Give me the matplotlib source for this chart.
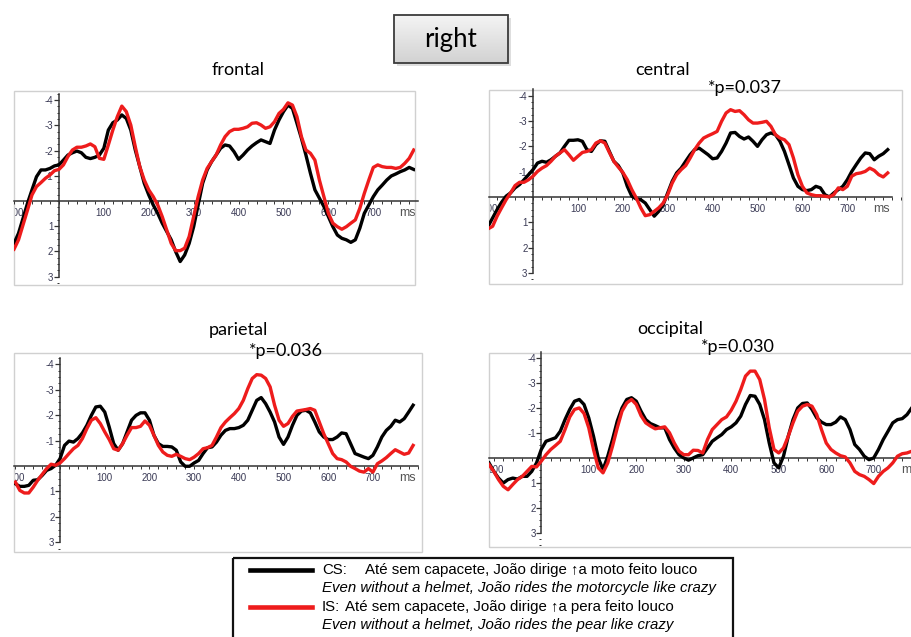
import numpy as np
import matplotlib.pyplot as plt
from matplotlib.patches import Rectangle
from matplotlib.lines import Line2D
from matplotlib.colors import LinearSegmentedColormap
from matplotlib.ticker import MultipleLocator, FixedLocator
from matplotlib.transforms import offset_copy

plt.rcParams['font.family'] = ['Liberation Sans', 'DejaVu Sans']
plt.rcParams['axes.unicode_minus'] = False

# time axis in ms (10 ms steps)
t = np.arange(-100, 800, 10)
t_occ = np.arange(-110, 790, 10)

# grand averages in microvolts (negative plotted up)
frontal_cs = [1.68, 1.28, 0.69, 0.09, -0.44, -0.96, -1.23, -1.23, -1.29, -1.39,
              -1.43, -1.62, -1.82, -1.91, -1.98, -1.91, -1.73, -1.68, -1.73, -1.82,
              -2.09, -2.81, -3.10, -3.21, -3.41, -3.27, -2.81, -2.02, -1.36, -0.70,
              -0.24, 0.16, 0.49, 0.88, 1.21, 1.54, 2.01, 2.40, 2.14, 1.68,
              1.02, 0.16, -0.70, -1.23, -1.56, -1.82, -2.09, -2.22, -2.18, -1.95,
              -1.65, -1.82, -2.02, -2.18, -2.31, -2.42, -2.35, -2.28, -2.81, -3.21,
              -3.54, -3.80, -3.67, -3.08, -2.48, -1.82, -1.10, -0.44, -0.11, 0.22,
              0.62, 1.02, 1.35, 1.48, 1.54, 1.64, 1.54, 1.08, 0.49, 0.16,
              -0.17, -0.44, -0.63, -0.83, -0.99, -1.07, -1.16, -1.23, -1.33, -1.25]
frontal_is = [1.91, 1.54, 0.95, 0.36, -0.24, -0.57, -0.73, -0.90, -1.03, -1.20,
              -1.25, -1.43, -1.76, -2.02, -2.13, -2.13, -2.18, -2.26, -2.15, -1.69,
              -1.65, -2.22, -2.81, -3.34, -3.76, -3.54, -3.01, -2.15, -1.36, -0.83,
              -0.44, -0.17, 0.16, 0.62, 1.15, 1.68, 1.97, 1.97, 1.87, 1.41,
              0.62, -0.17, -0.83, -1.29, -1.56, -1.82, -2.22, -2.55, -2.75, -2.84,
              -2.84, -2.88, -2.94, -3.08, -3.10, -3.01, -2.88, -2.94, -3.14, -3.47,
              -3.63, -3.89, -3.80, -3.34, -2.55, -2.02, -1.89, -1.62, -0.83, -0.17,
              0.49, 0.88, 1.02, 1.12, 1.02, 0.88, 0.75, 0.29, -0.30, -0.83,
              -1.33, -1.43, -1.36, -1.33, -1.33, -1.29, -1.33, -1.49, -1.69, -2.02]

central_cs = [1.16, 0.83, 0.50, 0.21, -0.03, -0.16, -0.36, -0.49, -0.68, -0.88,
              -1.08, -1.34, -1.41, -1.37, -1.47, -1.61, -1.74, -2.00, -2.24, -2.24,
              -2.26, -2.20, -1.87, -1.80, -2.07, -2.22, -2.20, -1.80, -1.41, -1.24,
              -0.95, -0.42, -0.03, 0.08, 0.11, 0.24, 0.50, 0.76, 0.57, 0.30,
              -0.16, -0.62, -0.95, -1.14, -1.41, -1.67, -1.87, -1.93, -1.80, -1.67,
              -1.51, -1.54, -1.80, -2.13, -2.53, -2.55, -2.39, -2.29, -2.37, -2.20,
              -2.00, -2.26, -2.46, -2.53, -2.46, -2.20, -1.80, -1.28, -0.75, -0.42,
              -0.29, -0.25, -0.29, -0.42, -0.36, -0.09, 0.00, -0.16, -0.29, -0.42,
              -0.68, -1.01, -1.28, -1.54, -1.74, -1.71, -1.47, -1.61, -1.71, -1.87]
central_is = [1.26, 1.16, 0.76, 0.43, 0.11, -0.16, -0.45, -0.58, -0.58, -0.68,
              -0.82, -1.01, -1.14, -1.24, -1.41, -1.61, -1.74, -1.87, -1.67, -1.45,
              -1.61, -1.76, -1.80, -1.87, -2.13, -2.22, -2.13, -1.76, -1.41, -1.18,
              -0.97, -0.68, -0.29, 0.04, 0.43, 0.74, 0.70, 0.57, 0.43, 0.24,
              -0.09, -0.55, -0.88, -1.08, -1.24, -1.54, -1.87, -2.13, -2.33, -2.42,
              -2.50, -2.59, -2.99, -3.32, -3.45, -3.38, -3.41, -3.25, -3.05, -2.92,
              -2.92, -2.95, -2.99, -2.79, -2.46, -2.33, -2.26, -2.07, -1.54, -0.88,
              -0.42, -0.16, -0.09, -0.05, -0.05, -0.03, 0.00, -0.09, -0.36, -0.29,
              -0.42, -0.82, -0.92, -0.95, -1.01, -1.14, -1.05, -0.88, -0.79, -0.95]

parietal_cs = [0.70, 0.80, 0.80, 0.76, 0.56, 0.54, 0.37, 0.17, 0.10, -0.03,
               -0.29, -0.81, -0.98, -0.94, -1.08, -1.30, -1.60, -1.99, -2.32, -2.35,
               -2.12, -1.53, -0.88, -0.62, -0.88, -1.34, -1.80, -1.99, -2.09, -2.09,
               -1.80, -1.21, -0.88, -0.77, -0.77, -0.75, -0.62, -0.16, 0.01, 0.01,
               -0.12, -0.22, -0.49, -0.72, -0.75, -0.94, -1.21, -1.40, -1.47, -1.47,
               -1.51, -1.60, -1.80, -2.19, -2.58, -2.69, -2.45, -2.12, -1.73, -1.14,
               -0.85, -1.14, -1.60, -1.99, -2.16, -2.19, -2.09, -1.73, -1.34, -1.14,
               -1.04, -1.04, -1.14, -1.30, -1.27, -0.88, -0.49, -0.42, -0.35, -0.29,
               -0.42, -0.75, -1.14, -1.40, -1.56, -1.80, -1.73, -1.86, -2.12, -2.39]
parietal_is = [0.63, 0.96, 1.06, 1.06, 0.83, 0.56, 0.33, 0.10, -0.07, -0.03,
               -0.12, -0.29, -0.49, -0.68, -0.81, -1.08, -1.47, -1.80, -1.90, -1.67,
               -1.34, -1.04, -0.68, -0.62, -0.88, -1.21, -1.51, -1.51, -1.56, -1.77,
               -1.60, -1.21, -0.81, -0.55, -0.42, -0.38, -0.46, -0.38, -0.29, -0.25,
               -0.35, -0.49, -0.68, -0.72, -0.81, -1.14, -1.51, -1.73, -1.90, -2.06,
               -2.26, -2.58, -3.04, -3.44, -3.59, -3.57, -3.44, -3.11, -2.39, -1.80,
               -1.56, -1.67, -1.95, -2.16, -2.19, -2.22, -2.26, -2.19, -1.73, -1.27,
               -0.88, -0.49, -0.29, -0.25, -0.16, 0.01, 0.10, 0.20, 0.24, 0.10,
               0.24, -0.09, -0.20, -0.33, -0.49, -0.64, -0.55, -0.46, -0.51, -0.81]

occipital_cs = [0.20, 0.54, 0.81, 1.01, 0.87, 0.81, 0.85, 0.74, 0.74, 0.54,
                0.20, -0.34, -0.67, -0.74, -0.81, -1.07, -1.54, -1.95, -2.28, -2.35,
                -2.15, -1.61, -0.87, 0.00, 0.47, -0.07, -0.74, -1.48, -2.01, -2.35,
                -2.42, -2.28, -1.88, -1.54, -1.38, -1.30, -1.21, -1.21, -0.74, -0.40,
                -0.13, 0.00, 0.09, 0.00, -0.09, -0.13, -0.40, -0.67, -0.81, -0.94,
                -1.14, -1.25, -1.41, -1.68, -2.15, -2.51, -2.48, -2.15, -1.54, -0.60,
                0.20, 0.40, -0.07, -0.87, -1.54, -2.01, -2.19, -2.21, -1.95, -1.61,
                -1.44, -1.34, -1.34, -1.44, -1.65, -1.54, -1.14, -0.54, -0.34, -0.07,
                0.07, 0.00, -0.34, -0.74, -1.07, -1.41, -1.54, -1.58, -1.74, -2.01]
occipital_is = [0.27, 0.54, 0.87, 1.14, 1.28, 1.07, 0.87, 0.74, 0.54, 0.34,
                0.36, 0.13, -0.13, -0.34, -0.50, -0.67, -1.14, -1.65, -1.95, -2.01,
                -1.79, -1.21, -0.34, 0.40, 0.60, 0.20, -0.47, -1.21, -1.88, -2.21,
                -2.35, -2.15, -1.70, -1.41, -1.28, -1.17, -1.21, -1.25, -1.01, -0.60,
                -0.27, -0.13, -0.13, -0.31, -0.30, -0.20, -0.74, -1.14, -1.34, -1.54,
                -1.65, -1.92, -2.28, -2.75, -3.29, -3.49, -3.49, -3.15, -2.35, -1.21,
                -0.34, -0.20, -0.40, -0.87, -1.41, -1.88, -2.08, -2.15, -2.08, -1.74,
                -1.14, -0.60, -0.34, -0.20, -0.09, -0.04, 0.20, 0.54, 0.67, 0.74,
                0.87, 1.03, 0.74, 0.54, 0.40, 0.20, -0.07, -0.17, -0.20, -0.27]

x_ticks = [-100, 100, 200, 300, 400, 500, 600, 700]
y_ticks = [-4, -3, -2, -1, 1, 2, 3]

CS_COL = 'black'
IS_COL = '#ee1c1c'
LAB_COL = '#3a3a55'

fig = plt.figure(figsize=(9.11, 6.37), dpi=100)


def erp_panel(rect, times, cs, is_, xlim, ylim):
    ax = fig.add_axes(rect)
    ax.patch.set_visible(False)
    ax.plot(times, cs, color=CS_COL, lw=2.4, zorder=3)
    ax.plot(times, is_, color=IS_COL, lw=2.4, zorder=4)
    ax.set_xlim(*xlim)
    ax.set_ylim(*ylim)  # inverted: negative up
    ax.spines['top'].set_visible(False)
    ax.spines['right'].set_visible(False)
    ax.spines['left'].set_position(('data', 0))
    ax.spines['bottom'].set_position(('data', 0))
    ax.spines['left'].set_bounds(3, -4.25)
    ax.spines['bottom'].set_bounds(xlim[0], 800)
    for s in ['left', 'bottom']:
        ax.spines[s].set_color('#333333')
        ax.spines[s].set_linewidth(1.1)
    ax.yaxis.set_major_locator(FixedLocator(y_ticks))
    ax.yaxis.set_minor_locator(MultipleLocator(0.25))
    ax.xaxis.set_major_locator(FixedLocator(x_ticks))
    ax.xaxis.set_minor_locator(MultipleLocator(20))
    ax.tick_params(axis='y', which='major', length=3.5, width=0.9, color='#333333',
                   labelsize=7, labelcolor=LAB_COL, pad=0.5)
    ax.tick_params(axis='y', which='minor', length=1.8, width=0.7, color='#333333')
    ax.tick_params(axis='x', which='both', length=2, width=0.7, color='#333333',
                   labelbottom=False)
    # x labels sit just under the zero line and get cut by the frame
    lab_tr = offset_copy(ax.transData, fig=fig, y=-12, units='dots')
    for x in x_ticks:
        ax.text(x, 0, str(x), transform=lab_tr, ha='center', va='center',
                fontsize=7, color=LAB_COL, clip_on=True, zorder=1)
    ax.text(758, 0, 'ms', transform=lab_tr, ha='left', va='center',
            fontsize=9, color='#555555', clip_on=True, zorder=1)
    ax.add_patch(Rectangle((0, 0), 1, 1, transform=ax.transAxes, fill=False,
                           ec='#d0d0d0', lw=1, clip_on=False))
    return ax


erp_panel([0.0154, 0.5526, 0.4402, 0.3046], t, frontal_cs, frontal_is,
          (-100, 793), (3.33, -4.36))
erp_panel([0.5368, 0.5542, 0.4534, 0.3046], t, central_cs, central_is,
          (-98, 822), (3.44, -4.23))
erp_panel([0.0154, 0.1334, 0.4479, 0.3124], t, parietal_cs, parietal_is,
          (-103, 810), (3.38, -4.44))
erp_panel([0.5368, 0.1413, 0.4786, 0.3046], t_occ, occipital_cs, occipital_is,
          (-110, 808), (3.58, -4.22))

# overlay in pixel units for the annotations
ov = fig.add_axes([0, 0, 1, 1])
ov.axis('off')

# "right" button
ov.add_patch(Rectangle((397, 18), 114, 48, fc='#c8c8c8', ec='none', alpha=0.6, zorder=1))
grad = LinearSegmentedColormap.from_list('btn', ['#f4f4f4', '#d2d2d2'])
ov.imshow(np.linspace(0, 1, 60)[:, None], cmap=grad, extent=(394, 508, 63, 15),
          aspect='auto', zorder=2)
ov.add_patch(Rectangle((394, 15), 114, 48, fill=False, ec='#3c3c3c', lw=1.3, zorder=3))
ov.text(451, 39, 'right', ha='center', va='center', fontsize=18.5, family='Lato', zorder=4)

titles = ['frontal', 'central', 'parietal', 'occipital']
title_pos = [(238, 70), (663, 70), (238, 330), (670, 329)]
for txt, (x, y) in zip(titles, title_pos):
    ov.text(x, y, txt, ha='center', va='center', fontsize=13, family='Lato')

p_vals = ['*p=0.037', '*p=0.036', '*p=0.030']
p_pos = [(745, 88), (286, 351), (738, 347)]
for txt, (x, y) in zip(p_vals, p_pos):
    ov.text(x, y, txt, ha='center', va='center', fontsize=13, family='Lato')

# legend box
ov.add_patch(Rectangle((233, 558), 500, 90, fill=False, ec='#111111', lw=1.6))
ov.add_line(Line2D([250, 312], [570, 570], color=CS_COL, lw=3.3))
ov.add_line(Line2D([250, 312], [607, 607], color=IS_COL, lw=3.3))
leg_fs = 10.8
ov.text(322, 570, 'CS:', ha='left', va='center', fontsize=leg_fs)
ov.text(365, 570, 'Até sem capacete, João dirige \u2191a moto feito louco',
        ha='left', va='center', fontsize=leg_fs)
ov.text(322, 588, 'Even without a helmet, João rides the motorcycle like crazy',
        ha='left', va='center', fontsize=leg_fs, style='italic')
ov.text(322, 607, 'IS:', ha='left', va='center', fontsize=leg_fs)
ov.text(345, 607, 'Até sem capacete, João dirige \u2191a pera feito louco',
        ha='left', va='center', fontsize=leg_fs)
ov.text(322, 625, 'Even without a helmet, João rides the pear like crazy',
        ha='left', va='center', fontsize=leg_fs, style='italic')

ov.set_xlim(0, 911)
ov.set_ylim(637, 0)

fig.savefig('out.png', dpi=100)
